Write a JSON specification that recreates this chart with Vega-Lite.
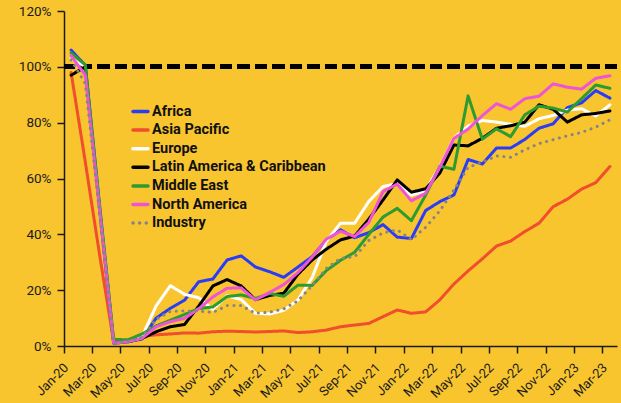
{
  "$schema": "https://vega.github.io/schema/vega-lite/v6.json",
  "width": 553,
  "height": 335,
  "autosize": "none",
  "padding": {"left": 64, "top": 11, "right": 4, "bottom": 57},
  "background": "#F9C52F",
  "config": {
    "view": {"stroke": null},
    "font": "Roboto"
  },
  "data": {
    "values": [
      {"m": "Jan-20", "Africa": 106, "Asia Pacific": 98, "Europe": 103, "Latin America & Caribbean": 97, "Middle East": 105, "North America": 104, "Industry": 102.5},
      {"m": "Feb-20", "Africa": 100.5, "Asia Pacific": 66, "Europe": 100, "Latin America & Caribbean": 100, "Middle East": 100.7, "North America": 97, "Industry": 94},
      {"m": "Mar-20", "Africa": 51, "Asia Pacific": 33, "Europe": 51, "Latin America & Caribbean": 50, "Middle East": 51, "North America": 49, "Industry": 48},
      {"m": "Apr-20", "Africa": 1.5, "Asia Pacific": 1.5, "Europe": 1, "Latin America & Caribbean": 1, "Middle East": 2.4, "North America": 1, "Industry": 1},
      {"m": "May-20", "Africa": 1.5, "Asia Pacific": 2, "Europe": 1.5, "Latin America & Caribbean": 1.5, "Middle East": 2.2, "North America": 1.5, "Industry": 1.5},
      {"m": "Jun-20", "Africa": 2.5, "Asia Pacific": 3.5, "Europe": 3.3, "Latin America & Caribbean": 2.7, "Middle East": 4.3, "North America": 2.7, "Industry": 3.1},
      {"m": "Jul-20", "Africa": 10, "Asia Pacific": 4, "Europe": 14.4, "Latin America & Caribbean": 5.1, "Middle East": 7.2, "North America": 6.9, "Industry": 9.6},
      {"m": "Aug-20", "Africa": 13.5, "Asia Pacific": 4.3, "Europe": 21.6, "Latin America & Caribbean": 6.9, "Middle East": 9.2, "North America": 8.7, "Industry": 12.4},
      {"m": "Sep-20", "Africa": 16.4, "Asia Pacific": 4.7, "Europe": 18.5, "Latin America & Caribbean": 7.7, "Middle East": 11.3, "North America": 9.9, "Industry": 12.6},
      {"m": "Oct-20", "Africa": 23, "Asia Pacific": 4.6, "Europe": 17.3, "Latin America & Caribbean": 14.3, "Middle East": 13.4, "North America": 13.3, "Industry": 12.5},
      {"m": "Nov-20", "Africa": 24, "Asia Pacific": 5.1, "Europe": 13.1, "Latin America & Caribbean": 21.5, "Middle East": 14, "North America": 17.6, "Industry": 12},
      {"m": "Dec-20", "Africa": 30.8, "Asia Pacific": 5.3, "Europe": 18, "Latin America & Caribbean": 23.8, "Middle East": 17.7, "North America": 20.7, "Industry": 14.5},
      {"m": "Jan-21", "Africa": 32.3, "Asia Pacific": 5.2, "Europe": 16.6, "Latin America & Caribbean": 21.5, "Middle East": 18.3, "North America": 20.8, "Industry": 14.5},
      {"m": "Feb-21", "Africa": 28.3, "Asia Pacific": 5, "Europe": 11.7, "Latin America & Caribbean": 16.6, "Middle East": 17, "North America": 16.5, "Industry": 11.7},
      {"m": "Mar-21", "Africa": 26.6, "Asia Pacific": 5.2, "Europe": 11.5, "Latin America & Caribbean": 18.1, "Middle East": 18.8, "North America": 19.2, "Industry": 12.1},
      {"m": "Apr-21", "Africa": 24.6, "Asia Pacific": 5.4, "Europe": 12.8, "Latin America & Caribbean": 18.9, "Middle East": 17.8, "North America": 22, "Industry": 13.3},
      {"m": "May-21", "Africa": 28.3, "Asia Pacific": 4.8, "Europe": 16.5, "Latin America & Caribbean": 25.7, "Middle East": 21.8, "North America": 26.3, "Industry": 16.2},
      {"m": "Jun-21", "Africa": 32, "Asia Pacific": 5.1, "Europe": 24.5, "Latin America & Caribbean": 30.8, "Middle East": 21.7, "North America": 31.8, "Industry": 21.7},
      {"m": "Jul-21", "Africa": 38, "Asia Pacific": 5.7, "Europe": 37.5, "Latin America & Caribbean": 34.7, "Middle East": 27, "North America": 38.3, "Industry": 27.8},
      {"m": "Aug-21", "Africa": 41.6, "Asia Pacific": 6.9, "Europe": 44, "Latin America & Caribbean": 38, "Middle East": 30.7, "North America": 41.1, "Industry": 31.4},
      {"m": "Sep-21", "Africa": 38.8, "Asia Pacific": 7.5, "Europe": 44, "Latin America & Caribbean": 39.4, "Middle East": 33.6, "North America": 39.2, "Industry": 32},
      {"m": "Oct-21", "Africa": 40.6, "Asia Pacific": 8.1, "Europe": 51.8, "Latin America & Caribbean": 45.5, "Middle East": 40, "North America": 44.3, "Industry": 37.8},
      {"m": "Nov-21", "Africa": 43.5, "Asia Pacific": 10.5, "Europe": 57.1, "Latin America & Caribbean": 52.3, "Middle East": 46.2, "North America": 55.3, "Industry": 40.5},
      {"m": "Dec-21", "Africa": 39, "Asia Pacific": 12.9, "Europe": 58.2, "Latin America & Caribbean": 59.5, "Middle East": 49.3, "North America": 58, "Industry": 41.6},
      {"m": "Jan-22", "Africa": 38.5, "Asia Pacific": 11.7, "Europe": 54, "Latin America & Caribbean": 55.1, "Middle East": 44.9, "North America": 52, "Industry": 38.1},
      {"m": "Feb-22", "Africa": 48.5, "Asia Pacific": 12.2, "Europe": 55.6, "Latin America & Caribbean": 56.3, "Middle East": 54, "North America": 54.7, "Industry": 42.5},
      {"m": "Mar-22", "Africa": 51.7, "Asia Pacific": 16.5, "Europe": 64.3, "Latin America & Caribbean": 61.9, "Middle East": 64.4, "North America": 64, "Industry": 48.4},
      {"m": "Apr-22", "Africa": 54.1, "Asia Pacific": 22.2, "Europe": 74.5, "Latin America & Caribbean": 72, "Middle East": 63.3, "North America": 74.4, "Industry": 55.9},
      {"m": "May-22", "Africa": 66.8, "Asia Pacific": 26.9, "Europe": 78.8, "Latin America & Caribbean": 71.7, "Middle East": 89.6, "North America": 77.7, "Industry": 64},
      {"m": "Jun-22", "Africa": 65.2, "Asia Pacific": 31.2, "Europe": 80.8, "Latin America & Caribbean": 74.4, "Middle East": 74.1, "North America": 82.5, "Industry": 65.8},
      {"m": "Jul-22", "Africa": 70.9, "Asia Pacific": 35.8, "Europe": 80.2, "Latin America & Caribbean": 78, "Middle East": 77.8, "North America": 86.8, "Industry": 68.1},
      {"m": "Aug-22", "Africa": 70.9, "Asia Pacific": 37.6, "Europe": 79.4, "Latin America & Caribbean": 78.9, "Middle East": 75, "North America": 84.8, "Industry": 67.6},
      {"m": "Sep-22", "Africa": 74, "Asia Pacific": 41, "Europe": 78.7, "Latin America & Caribbean": 80.2, "Middle East": 82.8, "North America": 88.6, "Industry": 70.3},
      {"m": "Oct-22", "Africa": 78, "Asia Pacific": 44, "Europe": 81.4, "Latin America & Caribbean": 86.4, "Middle East": 85.9, "North America": 89.5, "Industry": 72.5},
      {"m": "Nov-22", "Africa": 79.6, "Asia Pacific": 49.9, "Europe": 82.6, "Latin America & Caribbean": 84.8, "Middle East": 85.2, "North America": 93.9, "Industry": 73.9},
      {"m": "Dec-22", "Africa": 85.4, "Asia Pacific": 52.6, "Europe": 84.5, "Latin America & Caribbean": 80.2, "Middle East": 83.8, "North America": 92.7, "Industry": 75.3},
      {"m": "Jan-23", "Africa": 87.1, "Asia Pacific": 56.2, "Europe": 85, "Latin America & Caribbean": 82.8, "Middle East": 88.6, "North America": 92, "Industry": 76.5},
      {"m": "Feb-23", "Africa": 91.5, "Asia Pacific": 58.5, "Europe": 82.4, "Latin America & Caribbean": 83.3, "Middle East": 93.5, "North America": 95.9, "Industry": 78.4},
      {"m": "Mar-23", "Africa": 88.8, "Asia Pacific": 64.3, "Europe": 86.4, "Latin America & Caribbean": 84.2, "Middle East": 92.3, "North America": 96.8, "Industry": 81}
    ]
  },
  "layer": [
    {
      "mark": {"type": "rule", "strokeDash": [12, 5.5], "strokeWidth": 4, "color": "#000000"},
      "encoding": {"y": {"datum": 100, "type": "quantitative"}}
    },
    {
      "transform": [
        {"fold": ["Africa", "Asia Pacific", "Europe", "Latin America & Caribbean", "Middle East", "North America", "Industry"], "as": ["series", "value"]}
      ],
      "mark": {"type": "line", "strokeWidth": 3, "strokeCap": "round", "strokeJoin": "round"},
      "encoding": {
        "x": {
          "field": "m",
          "type": "ordinal",
          "bandPosition": 0.5,
          "scale": {
            "type": "band",
            "paddingInner": 0,
            "paddingOuter": 0,
            "domain": ["Jan-20","Feb-20","Mar-20","Apr-20","May-20","Jun-20","Jul-20","Aug-20","Sep-20","Oct-20","Nov-20","Dec-20","Jan-21","Feb-21","Mar-21","Apr-21","May-21","Jun-21","Jul-21","Aug-21","Sep-21","Oct-21","Nov-21","Dec-21","Jan-22","Feb-22","Mar-22","Apr-22","May-22","Jun-22","Jul-22","Aug-22","Sep-22","Oct-22","Nov-22","Dec-22","Jan-23","Feb-23","Mar-23"]
          },
          "axis": {
            "title": null,
            "values": ["Jan-20","Mar-20","May-20","Jul-20","Sep-20","Nov-20","Jan-21","Mar-21","May-21","Jul-21","Sep-21","Nov-21","Jan-22","Mar-22","May-22","Jul-22","Sep-22","Nov-22","Jan-23","Mar-23"],
            "bandPosition": 0,
            "labelOffset": -9,
            "labelAngle": -45,
            "labelAlign": "right",
            "labelBaseline": "top",
            "tickSize": 7,
            "tickWidth": 1.5,
            "tickColor": "#1a1a1a",
            "domainColor": "#1a1a1a",
            "domainWidth": 1.5,
            "labelPadding": 8,
            "labelFont": "Roboto",
            "labelFontSize": 13,
            "labelColor": "#1a1a1a",
            "grid": false
          }
        },
        "y": {
          "field": "value",
          "type": "quantitative",
          "scale": {"domain": [0, 120], "nice": false},
          "axis": {
            "title": null,
            "values": [0, 20, 40, 60, 80, 100, 120],
            "labelExpr": "datum.value + '%'",
            "tickSize": 7,
            "tickWidth": 1.5,
            "tickColor": "#1a1a1a",
            "domainColor": "#1a1a1a",
            "domainWidth": 1.5,
            "labelPadding": 6,
            "labelFont": "Roboto",
            "labelFontSize": 13.5,
            "labelColor": "#1a1a1a",
            "grid": false
          }
        },
        "color": {
          "field": "series",
          "type": "nominal",
          "scale": {
            "domain": ["Africa", "Asia Pacific", "Europe", "Latin America & Caribbean", "Middle East", "North America", "Industry"],
            "range": ["#2B3CF6", "#F04E2C", "#FFFFFF", "#000000", "#2E9A32", "#EE55D6", "#858585"]
          },
          "legend": {
            "title": null,
            "orient": "none",
            "legendX": 67,
            "legendY": 91,
            "padding": 0,
            "symbolType": "stroke",
            "symbolSize": 225,
            "symbolStrokeWidth": 3.5,
            "rowPadding": 1.6,
            "labelOffset": 2,
            "labelFont": "Roboto",
            "labelFontWeight": "bold",
            "labelFontSize": 14.5,
            "labelColor": "#111111",
            "labelLimit": 300,
            "encode": {"symbols": {"update": {"strokeCap": {"value": "round"}}}}
          }
        },
        "strokeDash": {
          "field": "series",
          "type": "nominal",
          "scale": {
            "domain": ["Africa", "Asia Pacific", "Europe", "Latin America & Caribbean", "Middle East", "North America", "Industry"],
            "range": [[1, 0], [1, 0], [1, 0], [1, 0], [1, 0], [1, 0], [0.1, 6.5]]
          },
          "legend": {
            "title": null,
            "orient": "none",
            "legendX": 67,
            "legendY": 91,
            "padding": 0,
            "symbolType": "stroke",
            "symbolSize": 225,
            "symbolStrokeWidth": 3.5,
            "rowPadding": 1.6,
            "labelOffset": 2,
            "labelFont": "Roboto",
            "labelFontWeight": "bold",
            "labelFontSize": 14.5,
            "labelColor": "#111111",
            "labelLimit": 300,
            "encode": {"symbols": {"update": {"strokeCap": {"value": "round"}}}}
          }
        }
      }
    }
  ]
}
